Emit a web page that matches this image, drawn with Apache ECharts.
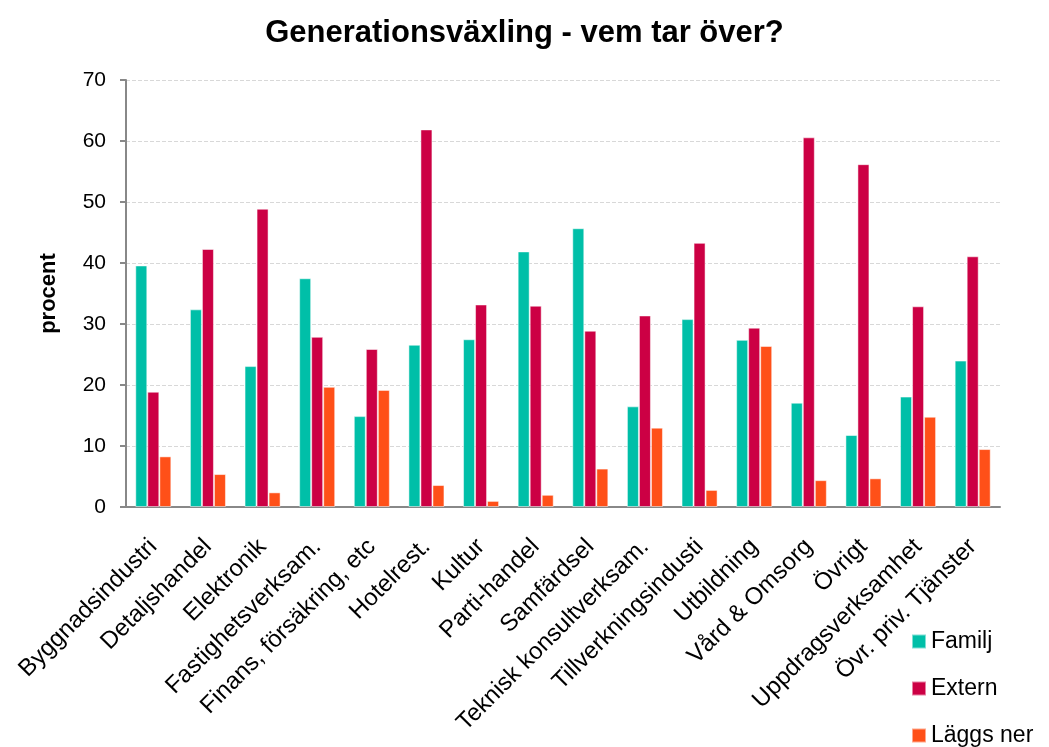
<!DOCTYPE html>
<html>
<head>
<meta charset="utf-8">
<script src="https://cdn.jsdelivr.net/npm/echarts@6/dist/echarts.min.js"></script>
<style>
  html, body { margin: 0; padding: 0; background: #fff; }
  #chart { width: 1049px; height: 747px; }
</style>
</head>
<body>
<div id="chart"></div>
<script>
const categories = ['Byggnadsindustri', 'Detaljshandel', 'Elektronik', 'Fastighetsverksam.',
  'Finans, försäkring, etc', 'Hotelrest.', 'Kultur', 'Parti-handel', 'Samfärdsel',
  'Teknisk konsultverksam.', 'Tillverkningsindusti', 'Utbildning', 'Vård & Omsorg',
  'Övrigt', 'Uppdragsverksamhet', 'Övr. priv. Tjänster'];
const familj = [39.6, 32.4, 23.1, 37.5, 14.9, 26.6, 27.5, 41.9, 45.7, 16.5, 30.8, 27.4, 17.1, 11.8, 18.1, 24.0];
const extern = [18.9, 42.3, 48.9, 27.9, 25.9, 61.9, 33.2, 33.0, 28.9, 31.4, 43.3, 29.4, 60.6, 56.2, 32.9, 41.1];
const laggsNer = [8.3, 5.4, 2.4, 19.7, 19.2, 3.6, 1.0, 2.0, 6.3, 13.0, 2.8, 26.4, 4.4, 4.7, 14.8, 9.5];

const font = 'Liberation Sans, Arial, sans-serif';
const chart = echarts.init(document.getElementById('chart'));

function bar(name, data, color) {
  return {
    name: name,
    type: 'bar',
    data: data,
    barGap: '0%',
    barCategoryGap: '34%',
    itemStyle: { color: color, borderColor: 'rgba(255,255,255,0.5)', borderWidth: 1 }
  };
}

chart.setOption({
  animation: false,
  title: {
    text: 'Generationsväxling - vem tar över?',
    left: 'center',
    top: 13,
    textStyle: { fontFamily: font, fontSize: 31, fontWeight: 'bold', color: '#000' }
  },
  legend: {
    orient: 'vertical',
    left: 911,
    bottom: 0,
    padding: 0,
    itemWidth: 14,
    itemHeight: 14,
    itemGap: 24,
    icon: 'rect',
    textStyle: { fontFamily: font, fontSize: 23, color: '#000', padding: [0, 0, 0, 0] }
  },
  grid: { left: 126, right: 49, top: 80, bottom: 240 },
  xAxis: {
    type: 'category',
    data: categories,
    axisLine: { lineStyle: { color: '#888', width: 2 } },
    axisTick: { show: false },
    axisLabel: { rotate: 45, interval: 0, fontFamily: font, fontSize: 24, color: '#000', margin: 36 }
  },
  yAxis: {
    type: 'value',
    min: 0,
    max: 70,
    interval: 10,
    name: 'procent',
    nameLocation: 'middle',
    nameGap: 66,
    nameTextStyle: { fontFamily: font, fontSize: 22, fontWeight: 'bold', color: '#000' },
    axisLine: { show: true, lineStyle: { color: '#888', width: 2 } },
    axisTick: { show: true, length: 6, lineStyle: { color: '#888', width: 2 } },
    axisLabel: { fontFamily: font, fontSize: 21, color: '#000', margin: 20 },
    splitLine: { lineStyle: { color: '#d8d8d8', type: 'dashed', width: 1 } }
  },
  series: [
    bar('Familj', familj, '#00BFA8'),
    bar('Extern', extern, '#CC0044'),
    bar('Läggs ner', laggsNer, '#FF5018')
  ]
});
</script>
</body>
</html>
